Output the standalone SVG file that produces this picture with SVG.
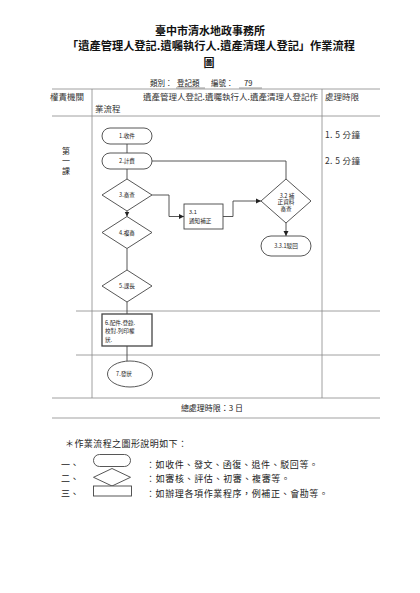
<svg xmlns="http://www.w3.org/2000/svg" width="420" height="593" viewBox="0 0 420 593">
<style>
text{font-family:"Noto Sans CJK TC","Noto Sans CJK SC",sans-serif;fill:#222}
.ttl{font-size:11px;font-weight:600;fill:#111}
.hd{font-size:8.5px;fill:#333}
.nt{font-size:5.6px;fill:#222}
.lg{font-size:9px;fill:#222}
.grid{stroke:#888;stroke-width:0.8;fill:none}
.shape{fill:#fff;stroke:#444;stroke-width:0.9}
.conn{fill:none;stroke:#444;stroke-width:0.9}
</style>
<defs>
<marker id="arr" markerWidth="6" markerHeight="6" refX="5" refY="3" orient="auto" markerUnits="userSpaceOnUse">
<path d="M0,0.5 L5,3 L0,5.5 Z" fill="#222"/>
</marker>
</defs>
<rect width="420" height="593" fill="#fff"/>

<g id="title">
<text class="ttl" x="210" y="35" text-anchor="middle">臺中市清水地政事務所</text>
<text class="ttl" x="211" y="49.5" text-anchor="middle" textLength="288" lengthAdjust="spacingAndGlyphs">「遺產管理人登記.遺囑執行人.遺產清理人登記」作業流程</text>
<text class="ttl" x="209" y="67" text-anchor="middle">圖</text>
<text x="150" y="85.5" style="font-size:7.5px" fill="#333">類別：</text>
<text x="177" y="85.5" style="font-size:7.5px" fill="#333">登記類</text>
<line x1="176" y1="88" x2="205" y2="88" stroke="#555" stroke-width="0.6"/>
<text x="211" y="85.5" style="font-size:7.5px" fill="#333">編號：</text>
<text x="244" y="85.5" style="font-size:7.5px" fill="#333">79</text>
<line x1="239" y1="88" x2="262" y2="88" stroke="#555" stroke-width="0.6"/>
</g>

<g id="table">
<line class="grid" x1="52" y1="89" x2="380" y2="89"/>
<line class="grid" x1="52" y1="116" x2="380" y2="116"/>
<line class="grid" x1="76" y1="311" x2="380" y2="311"/>
<line class="grid" x1="76" y1="355" x2="380" y2="355"/>
<line class="grid" x1="52" y1="398" x2="380" y2="398"/>
<line class="grid" x1="92" y1="89" x2="92" y2="398"/>
<line class="grid" x1="322" y1="89" x2="322" y2="398"/>
<line x1="52" y1="418" x2="380" y2="418" stroke="#d0d0d0" stroke-width="2"/>
<text class="hd" x="50" y="100">權責機關</text>
<text class="hd" x="143" y="100" textLength="175" lengthAdjust="spacingAndGlyphs">遺產管理人登記.遺囑執行人.遺產清理人登記作</text>
<text class="hd" x="95" y="111.5">業流程</text>
<text class="hd" x="325" y="100">處理時限</text>
<text x="66" y="154" text-anchor="middle" style="font-size:8px" fill="#333">第</text>
<text x="66" y="164" text-anchor="middle" style="font-size:8px" fill="#333">一</text>
<text x="66" y="174" text-anchor="middle" style="font-size:8px" fill="#333">課</text>
<text class="hd" x="325" y="138" textLength="35" lengthAdjust="spacing">1. 5 分鐘</text>
<text class="hd" x="325" y="164" textLength="35" lengthAdjust="spacing">2. 5 分鐘</text>
<text x="212" y="410.5" text-anchor="middle" style="font-size:8px" fill="#333">總處理時限：3 日</text>
</g>

<g id="connectors">
<path class="conn" d="M127,144 V153"/>
<path class="conn" d="M127,169 V179"/>
<path class="conn" d="M152,161 H286 V179"/>
<path class="conn" d="M127,211 V216.5" marker-end="url(#arr)"/>
<path class="conn" d="M127,248.5 V270"/>
<path class="conn" d="M127,302 V314"/>
<path class="conn" d="M127,346 V361"/>
<path class="conn" d="M152,195 H169 V216.5 H184" marker-end="url(#arr)"/>
<path class="conn" d="M223,216.5 H233 V201 H261" marker-end="url(#arr)"/>
<path class="conn" d="M286,223 V236" marker-end="url(#arr)"/>
</g>

<g id="n1">
<rect class="shape" x="102" y="128" width="50" height="16" rx="8"/>
<text class="nt" x="127" y="138.2" text-anchor="middle">1.收件</text>
</g>
<g id="n2">
<rect class="shape" x="102" y="153" width="50" height="16" rx="8"/>
<text class="nt" x="127" y="163.2" text-anchor="middle">2.計費</text>
</g>
<g id="n3">
<polygon class="shape" points="127,179 152,195 127,211 102,195"/>
<text class="nt" x="127" y="197.2" text-anchor="middle">3.審查</text>
</g>
<g id="n4">
<polygon class="shape" points="127,216.5 152,232.5 127,248.5 102,232.5"/>
<text class="nt" x="127" y="234.7" text-anchor="middle">4.複審</text>
</g>
<g id="n5">
<polygon class="shape" points="127,270 152,286 127,302 102,286"/>
<text class="nt" x="127" y="288.2" text-anchor="middle">5.課長</text>
</g>
<g id="n6">
<rect class="shape" x="102" y="314" width="50" height="32" style="stroke-width:1.3"/>
<text class="nt" x="105" y="324.5">6.配件.登錄.</text>
<text class="nt" x="105" y="333">校對.列印權</text>
<text class="nt" x="105" y="341.5">狀.</text>
</g>
<g id="n7">
<ellipse class="shape" cx="130" cy="374" rx="22.5" ry="13"/>
<text class="nt" x="124" y="376.2" text-anchor="middle">7.發狀</text>
</g>
<g id="n31">
<rect class="shape" x="184" y="204" width="39" height="25"/>
<text class="nt" x="189" y="213.5">3.1</text>
<text class="nt" x="189" y="222.5">通知補正</text>
</g>
<g id="n32">
<polygon class="shape" points="286,179 311,201 286,223 261,201"/>
<text class="nt" x="287" y="197.5" text-anchor="middle">3.2 補</text>
<text class="nt" x="286" y="204" text-anchor="middle">正資料</text>
<text class="nt" x="286" y="210.5" text-anchor="middle">審查</text>
</g>
<g id="n331">
<rect class="shape" x="261" y="236" width="50" height="20" rx="10"/>
<text class="nt" x="286" y="248.2" text-anchor="middle">3.3.1駁回</text>
</g>

<g id="legend">
<text class="lg" x="65" y="446.5" textLength="122" lengthAdjust="spacing">＊作業流程之圖形說明如下：</text>
<text class="lg" x="61" y="467.5">一、</text>
<rect class="shape" x="93.5" y="454.5" width="37" height="12" rx="6"/>
<text class="lg" x="146" y="467.5" textLength="172" lengthAdjust="spacing">：如收件、發文、函復、退件、駁回等。</text>
<text class="lg" x="61" y="481.5">二、</text>
<polygon class="shape" points="112,468.5 130.5,477.3 112,486 93.5,477.3"/>
<text class="lg" x="146" y="481.5" textLength="144" lengthAdjust="spacing">：如審核、評估、初審、複審等。</text>
<text class="lg" x="61" y="496.5">三、</text>
<rect class="shape" x="93.5" y="486" width="38" height="10"/>
<text class="lg" x="146" y="496.5" textLength="182" lengthAdjust="spacing">：如辦理各項作業程序，例補正、會勘等。</text>
</g>
</svg>
